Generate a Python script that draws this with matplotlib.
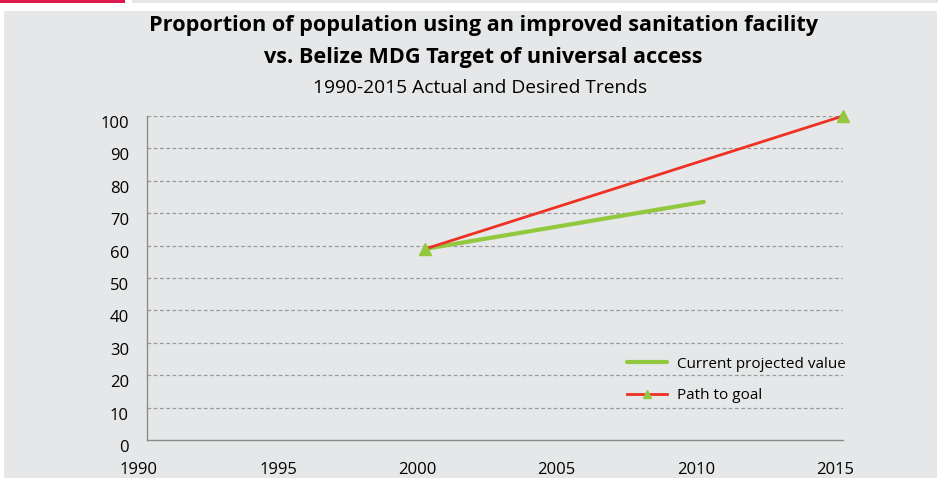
import matplotlib
matplotlib.use("Agg")
import matplotlib.pyplot as plt
from matplotlib.patches import Rectangle
import matplotlib.transforms as mtransforms

years_current = [2000, 2010]
values_current = [59, 73.5]
years_goal = [2000, 2015]
values_goal = [59, 100]
xticks = [1990, 1995, 2000, 2005, 2010, 2015]
yticks = list(range(0, 101, 10))

W, H = 938, 479
fig = plt.figure(figsize=(W / 100, H / 100), dpi=100)
fig.patch.set_facecolor("white")
plt.rcParams['font.family'] = ['Open Sans', 'DejaVu Sans']

# background panel and top bars
fig.patches.append(Rectangle((4 / W, 1 - 478 / H), 933 / W, 467 / H, transform=fig.transFigure,
                             facecolor="#E6E7E8", edgecolor="none", zorder=-10))
fig.patches.append(Rectangle((0, 1 - 3 / H), 125 / W, 3 / H, transform=fig.transFigure,
                             facecolor="#DD1A4E", edgecolor="none", zorder=-10))
fig.patches.append(Rectangle((132 / W, 1 - 3 / H), (W - 132) / W, 3 / H, transform=fig.transFigure,
                             facecolor="#E6E7E8", edgecolor="none", zorder=-10))

left, right = 147 / W, 843 / W
bottom, top = 1 - 440 / H, 1 - 116 / H
ax = fig.add_axes([left, bottom, right - left, top - bottom])
ax.set_facecolor("none")
ax.set_zorder(1)

ax.set_xlim(1990, 2015)
ax.set_ylim(0, 100)

for y in yticks[1:]:
    ax.axhline(y, color="#9A9A9A", lw=0.9, ls=(0, (3, 2)), zorder=1)

ax.plot(years_current, values_current, color="#92C83E", lw=3, solid_capstyle="round",
        label="Current projected value", zorder=3)
ax.plot(years_goal, values_goal, color="#EE3124", lw=2, marker="^", markersize=8,
        markerfacecolor="#92C83E", markeredgecolor="#92C83E", label="Path to goal",
        zorder=4, clip_on=False)

for s in ["top", "right"]:
    ax.spines[s].set_visible(False)
for s in ["left", "bottom"]:
    ax.spines[s].set_color("#8C8C8C")
    ax.spines[s].set_linewidth(1)

ax.set_xticks(xticks)
ax.set_xticklabels([str(x) for x in xticks])
ax.set_yticks(yticks)
ax.tick_params(axis="both", length=0, labelsize=12, colors="#000000")
ax.tick_params(axis="x", pad=16)
ax.tick_params(axis="y", pad=13)
yshift = mtransforms.ScaledTranslation(0, -6 / 100, fig.dpi_scale_trans)
for lbl in ax.get_yticklabels():
    lbl.set_transform(lbl.get_transform() + yshift)
xshift = mtransforms.ScaledTranslation(-8 / 100, 0, fig.dpi_scale_trans)
for lbl in ax.get_xticklabels():
    lbl.set_transform(lbl.get_transform() + xshift)

leg = ax.legend(loc="center left", bbox_to_anchor=(627 / W, 1 - 380 / H),
                bbox_transform=fig.transFigure, frameon=False, fontsize=11,
                handlelength=2.6, handletextpad=0.65, labelspacing=1.1,
                borderaxespad=0, borderpad=0, markerscale=0.75)

fig.text(483 / W, 1 - 25 / H, "Proportion of population using an improved sanitation facility",
         ha="center", va="center", fontsize=15.6, fontweight="bold")
fig.text(483 / W, 1 - 57 / H, "vs. Belize MDG Target of universal access",
         ha="center", va="center", fontsize=15.6, fontweight="bold")
fig.text(480 / W, 1 - 88 / H, "1990-2015 Actual and Desired Trends",
         ha="center", va="center", fontsize=13.8)

fig.savefig("out.png", dpi=100)
